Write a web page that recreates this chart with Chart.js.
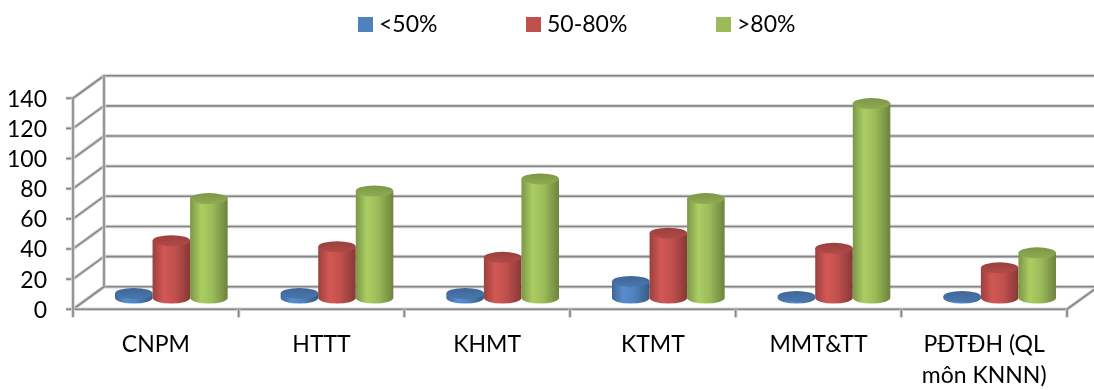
<!DOCTYPE html>
<html>
<head>
<meta charset="utf-8">
<script src="https://cdn.jsdelivr.net/npm/chart.js@4"></script>
<style>
  html, body { margin: 0; padding: 0; background: #fff; }
  #wrap { width: 1094px; height: 390px; position: relative; }
</style>
</head>
<body>
<div id="wrap"><canvas id="myChart"></canvas></div>
<script>
// Donnees du graphique
const categories = ['CNPM', 'HTTT', 'KHMT', 'KTMT', 'MMT&TT', ['PĐTĐH (QL', 'môn KNNN)']];
const seriesNames = ['<50%', '50-80%', '>80%'];
const below50 = [3, 3, 3, 11, 1, 1];
const from50to80 = [38, 34, 27, 43, 33, 20];
const above80 = [66, 71, 79, 66, 129, 30];
const yTicks = [0, 20, 40, 60, 80, 100, 120, 140];
const seriesColors = ['#4F81BD', '#C0504D', '#9BBB59'];

// decalage de profondeur (avant -> arriere)
const DX = 31, DY = -22.5;
const FONT = '23px Lato';

function shade(hex, f) {
  const n = parseInt(hex.slice(1), 16);
  const c = [(n >> 16) & 255, (n >> 8) & 255, n & 255].map(v => Math.max(0, Math.min(255, Math.round(v * f))));
  return 'rgb(' + c.join(',') + ')';
}

function gridLine(ctx, pts) {
  ctx.save();
  ctx.lineJoin = 'round';
  ctx.strokeStyle = '#d4d4d4';
  ctx.lineWidth = 3.5;
  ctx.beginPath();
  pts.forEach((p, i) => i ? ctx.lineTo(p[0], p[1]) : ctx.moveTo(p[0], p[1]));
  ctx.stroke();
  ctx.strokeStyle = '#868686';
  ctx.lineWidth = 1.6;
  ctx.stroke();
  ctx.restore();
}

const plot3d = {
  id: 'plot3d',
  beforeDraw(chart) {
    const ctx = chart.ctx;
    const y = chart.scales.y;
    const area = chart.chartArea;
    const fl = area.left - DX / 2, bl = area.left + DX / 2;
    const fr = area.right - DX / 2, br = area.right + DX / 2;
    // murs et lignes de grille
    yTicks.forEach(v => {
      const py = y.getPixelForValue(v);
      gridLine(ctx, [[fl, py - DY / 2], [bl, py + DY / 2], [chart.width + 10, py + DY / 2]]);
      gridLine(ctx, [[fl - 7, py - DY / 2], [fl, py - DY / 2]]);
    });
    const y0 = y.getPixelForValue(0), yTop = y.getPixelForValue(140);
    gridLine(ctx, [[fl, yTop - DY / 2], [fl, y0 - DY / 2], [fr, y0 - DY / 2], [br, y0 + DY / 2]]);
    gridLine(ctx, [[bl, yTop + DY / 2], [bl, y0 + DY / 2]]);
    // graduations de l'axe des categories
    const w = (area.right - area.left) / categories.length;
    for (let i = 0; i <= categories.length; i++) {
      const px = area.left + i * w - DX / 2;
      gridLine(ctx, [[px, y0 - DY / 2], [px, y0 - DY / 2 + 8]]);
    }
  },
  beforeDatasetsDraw(chart) {
    const ctx = chart.ctx;
    const base = chart.scales.y.getPixelForValue(0);
    const n = chart.data.labels.length;
    for (let i = 0; i < n; i++) {
      chart.data.datasets.forEach((ds, d) => {
        const bar = chart.getDatasetMeta(d).data[i];
        const col = seriesColors[d];
        const rx = bar.width / 2, ry = 5.5;
        const l = bar.x - rx, r = bar.x + rx, top = bar.y;
        const g = ctx.createLinearGradient(l, 0, r, 0);
        g.addColorStop(0, shade(col, 0.8));
        g.addColorStop(0.3, shade(col, 1.1));
        g.addColorStop(0.6, shade(col, 1.0));
        g.addColorStop(1, shade(col, 0.7));
        ctx.save();
        ctx.beginPath();
        ctx.moveTo(l, top);
        ctx.lineTo(l, base);
        ctx.ellipse(bar.x, base, rx, ry, 0, Math.PI, 0, true);
        ctx.lineTo(r, top);
        ctx.closePath();
        ctx.fillStyle = g;
        ctx.fill();
        const tg = ctx.createLinearGradient(0, top - ry, 0, top + ry);
        tg.addColorStop(0, shade(col, 0.8));
        tg.addColorStop(1, shade(col, 0.92));
        ctx.beginPath();
        ctx.ellipse(bar.x, top, rx, ry, 0, 0, Math.PI * 2);
        ctx.fillStyle = tg;
        ctx.fill();
        ctx.restore();
      });
    }
    return false;
  },
  afterDraw(chart) {
    const ctx = chart.ctx;
    const y = chart.scales.y, x = chart.scales.x;
    ctx.save();
    ctx.font = FONT;
    ctx.fillStyle = '#000';
    // etiquettes de l'axe Y
    ctx.textAlign = 'right';
    ctx.textBaseline = 'middle';
    yTicks.forEach(v => ctx.fillText(String(v), 47, y.getPixelForValue(v) - DY / 2 + 1));
    // etiquettes des categories
    ctx.textAlign = 'center';
    categories.forEach((c, i) => {
      const px = x.getPixelForValue(i) - DX / 2;
      const lines = Array.isArray(c) ? c : [c];
      lines.forEach((t, k) => ctx.fillText(t, px, 345 + k * 31));
    });
    // legende
    const legendX = [358, 526, 716];
    ctx.textAlign = 'left';
    seriesNames.forEach((s, i) => {
      ctx.fillStyle = seriesColors[i];
      ctx.fillRect(legendX[i], 17, 15, 15);
      ctx.fillStyle = '#000';
      ctx.fillText(s, legendX[i] + 21, 25);
    });
    ctx.restore();
  }
};

new Chart(document.getElementById('myChart'), {
  type: 'bar',
  data: {
    labels: categories,
    datasets: [
      { label: seriesNames[0], data: below50, backgroundColor: seriesColors[0] },
      { label: seriesNames[1], data: from50to80, backgroundColor: seriesColors[1] },
      { label: seriesNames[2], data: above80, backgroundColor: seriesColors[2] }
    ]
  },
  options: {
    responsive: true,
    maintainAspectRatio: false,
    animation: false,
    layout: { padding: { left: 88.5, right: 11.5, top: 87, bottom: 92 } },
    datasets: { bar: { categoryPercentage: 0.68, barPercentage: 1.0 } },
    plugins: { legend: { display: false }, tooltip: { enabled: false } },
    scales: {
      x: { display: false },
      y: { display: false, min: 0, max: 140 }
    }
  },
  plugins: [plot3d]
});
</script>
</body>
</html>
